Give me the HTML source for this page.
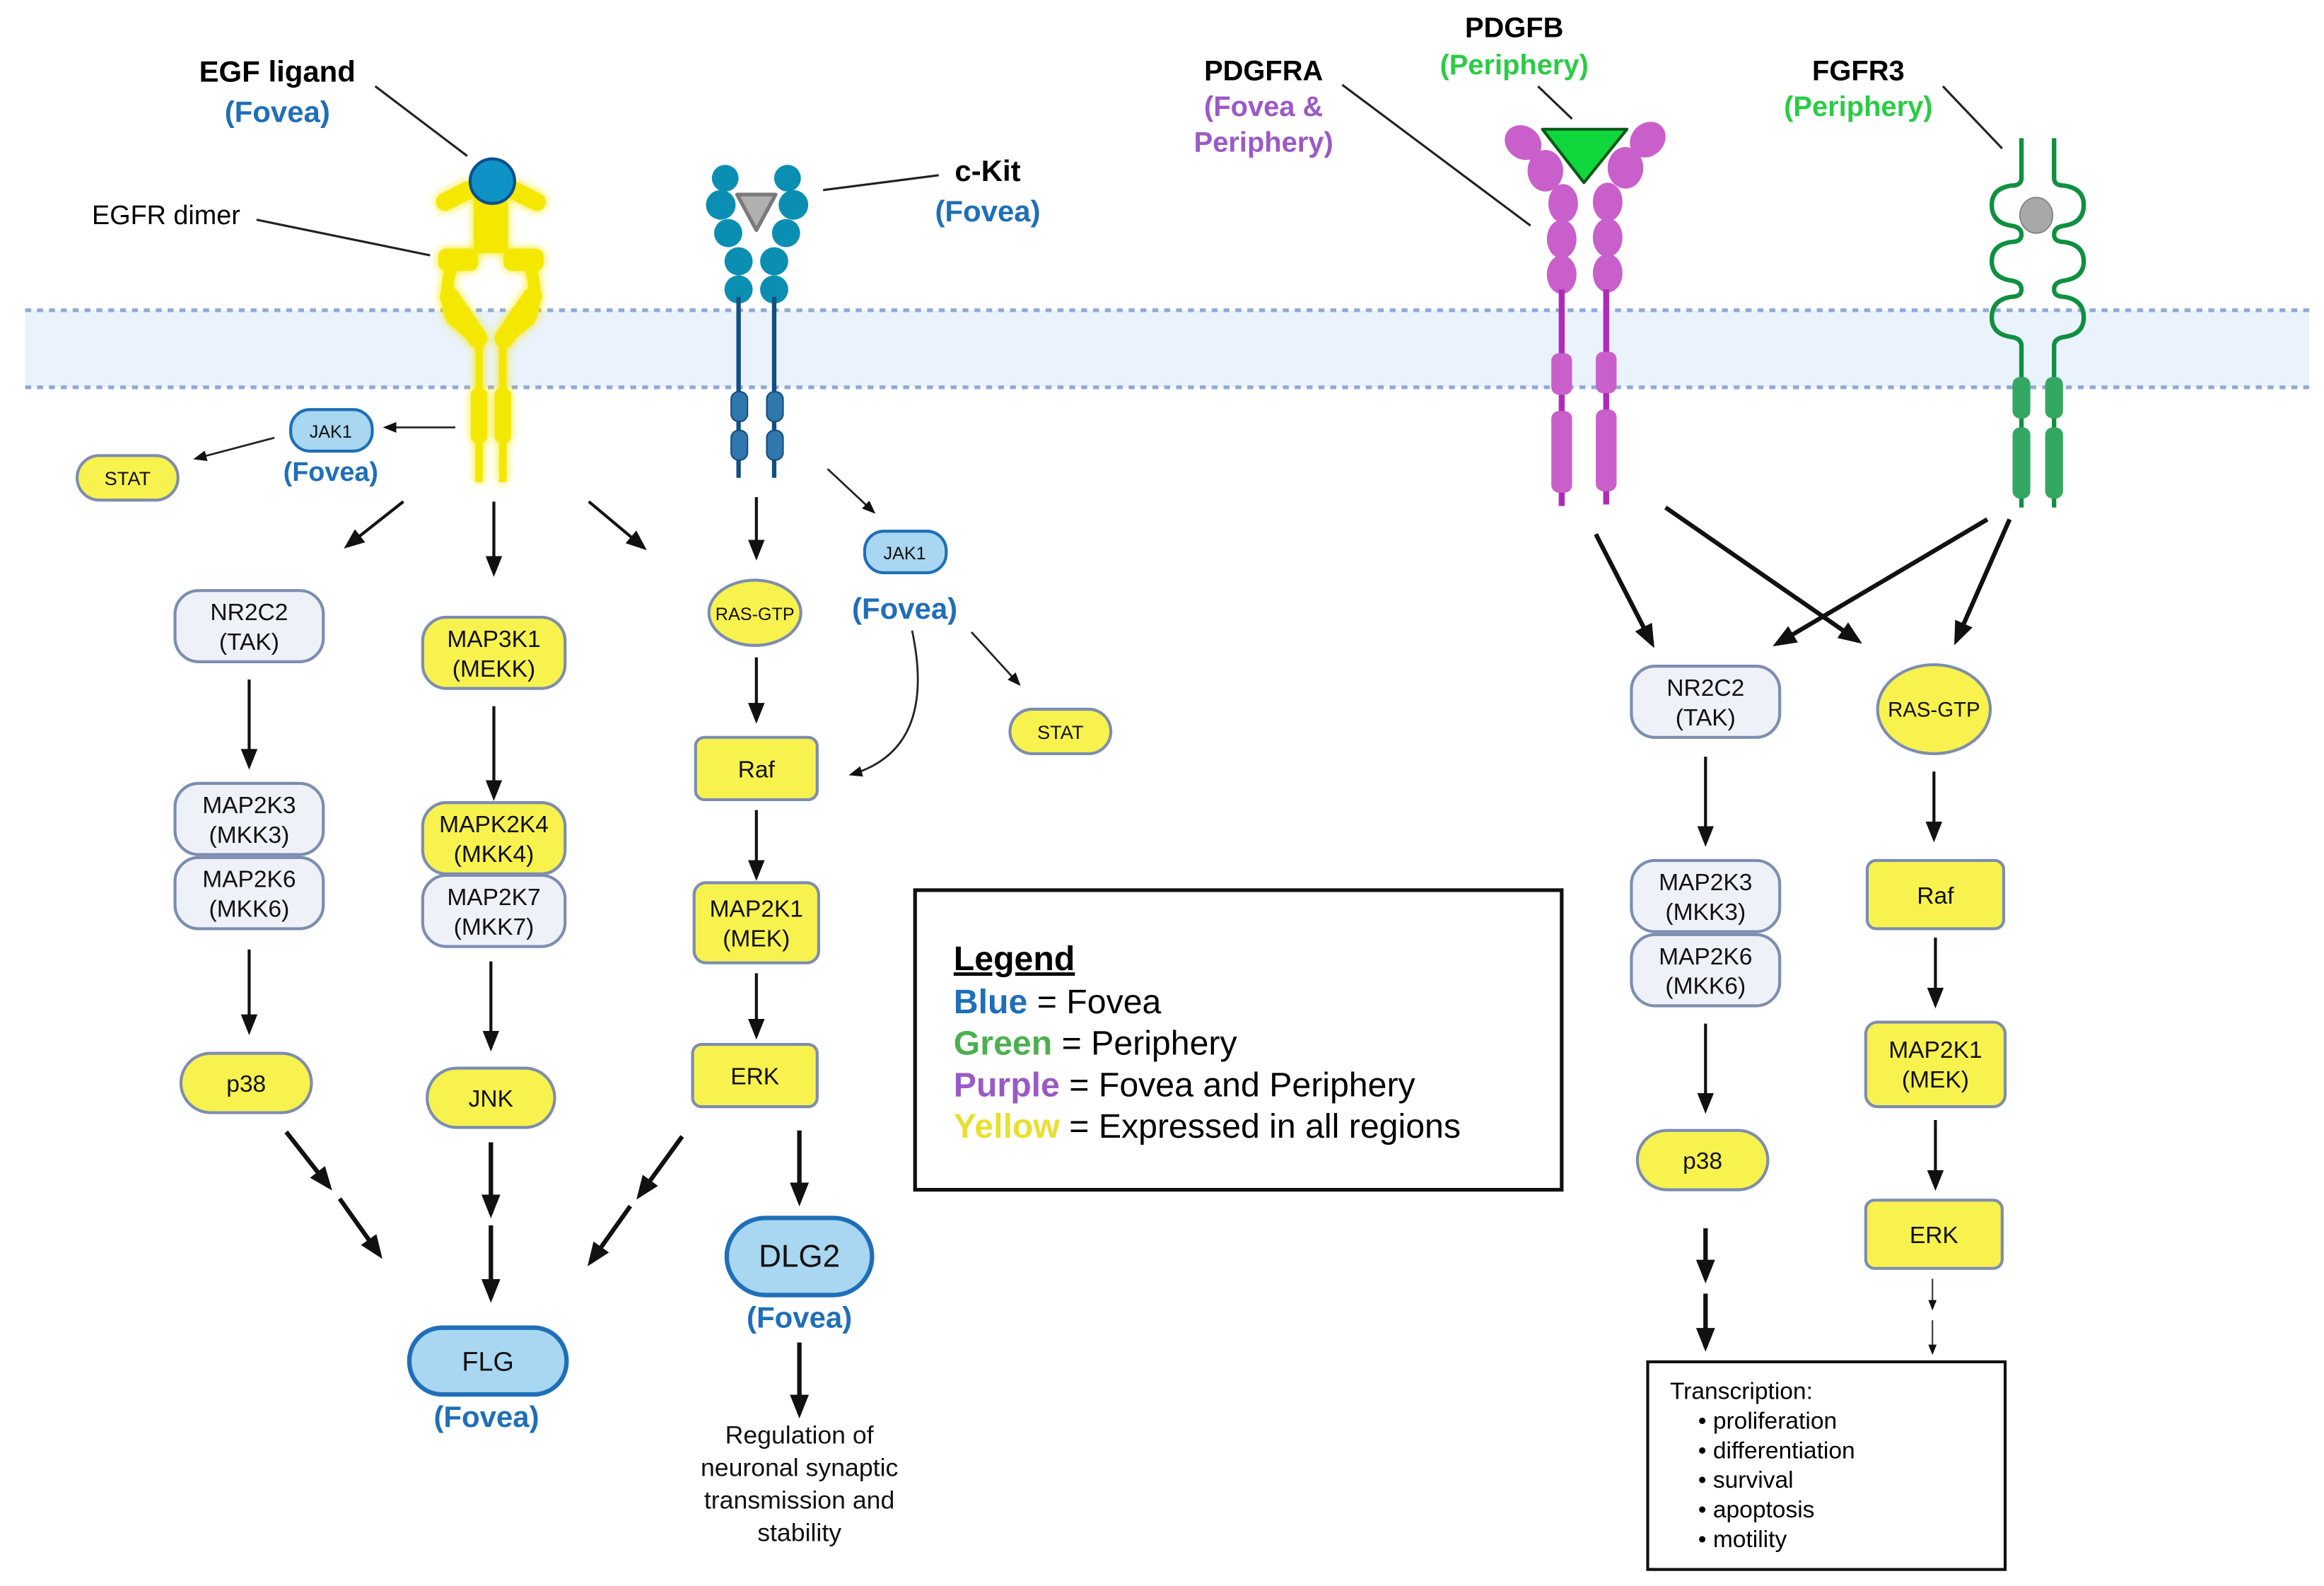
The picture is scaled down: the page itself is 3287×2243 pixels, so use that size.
<!DOCTYPE html>
<html><head><meta charset="utf-8"><style>html,body{margin:0;padding:0;background:#fff}svg{display:block}text{font-family:"Liberation Sans",sans-serif}</style></head><body>
<svg width="3287" height="2243" viewBox="0 0 1567 1069" xmlns="http://www.w3.org/2000/svg">
<defs>
<marker id="s" viewBox="0 0 10 10" refX="8" refY="5" markerWidth="7" markerHeight="7" orient="auto"><path d="M0,1L10,5L0,9z" fill="#111"/></marker>
<marker id="t" viewBox="0 0 10 10" refX="8" refY="5" markerWidth="16" markerHeight="16" markerUnits="userSpaceOnUse" orient="auto"><path d="M0,1L10,5L0,9z" fill="#111"/></marker>
<filter id="g" x="-30%" y="-30%" width="160%" height="160%"><feGaussianBlur stdDeviation="3" result="b"/><feMerge><feMergeNode in="b"/><feMergeNode in="SourceGraphic"/></feMerge></filter>
</defs>
<rect width="1567" height="1069" fill="#fff"/>
<rect x="17" y="209" width="1540" height="52" fill="#eaf2fc"/>
<line x1="17" y1="209" x2="1557" y2="209" stroke="#8fa9d8" stroke-width="2.5" stroke-dasharray="4,4"/>
<line x1="17" y1="261" x2="1557" y2="261" stroke="#8fa9d8" stroke-width="2.5" stroke-dasharray="4,4"/>

<g filter="url(#g)" fill="#f5e800" stroke="#f5e800">
<path d="M300,136 L316,128 M362,136 L346,128" stroke-width="12" stroke-linecap="round"/>
<rect x="320" y="125" width="22" height="45"/>
<path d="M305,178 Q298,200 305,215 L323,230 M357,178 Q364,200 357,215 L339,230" fill="none" stroke-width="8"/>
<rect x="296" y="168" width="26" height="14" rx="5"/><rect x="340" y="168" width="26" height="14" rx="5"/>
<path d="M303,200 L322,228 M359,200 L340,228" stroke-width="13" stroke-linecap="round"/>
<line x1="323" y1="230" x2="323" y2="325" stroke-width="5"/><line x1="339" y1="230" x2="339" y2="325" stroke-width="5"/>
<rect x="318" y="262" width="10" height="36" rx="4"/><rect x="334" y="262" width="10" height="36" rx="4"/>
</g>
<circle cx="332" cy="122" r="15" fill="#0f93c6" stroke="#0b4f8e" stroke-width="2"/>

<g fill="#0a8fb2">
<circle cx="489" cy="120" r="9"/><circle cx="531" cy="120" r="9"/>
<circle cx="486" cy="138" r="10"/><circle cx="535" cy="138" r="10"/>
<circle cx="491" cy="157" r="9.5"/><circle cx="530" cy="157" r="9.5"/>
<circle cx="498" cy="176" r="9.5"/><circle cx="522" cy="176" r="9.5"/>
<circle cx="498" cy="195" r="9.5"/><circle cx="522" cy="195" r="9.5"/>
</g>
<path d="M497,131 L523,131 L510,155 Z" fill="#b0b0b0" stroke="#7a7a7a" stroke-width="2.5" stroke-linejoin="round"/>
<g stroke="#124f80" stroke-width="3"><line x1="498" y1="200" x2="498" y2="322"/><line x1="522" y1="200" x2="522" y2="322"/></g>
<g fill="#2f77ad" stroke="#124f80" stroke-width="1"><rect x="493" y="264" width="11" height="20" rx="5"/><rect x="517" y="264" width="11" height="20" rx="5"/><rect x="493" y="290" width="11" height="20" rx="5"/><rect x="517" y="290" width="11" height="20" rx="5"/></g>

<g fill="#c95fcb">
<ellipse cx="1027" cy="96" rx="13" ry="11" transform="rotate(35 1027 96)"/><ellipse cx="1111" cy="94" rx="13" ry="11" transform="rotate(-45 1111 94)"/>
<ellipse cx="1042" cy="115" rx="12" ry="14"/><ellipse cx="1096" cy="113" rx="12" ry="14"/>
<ellipse cx="1054" cy="137" rx="10" ry="13"/><ellipse cx="1084" cy="136" rx="10" ry="13"/>
<ellipse cx="1053" cy="161" rx="10" ry="13"/><ellipse cx="1084" cy="160" rx="10" ry="13"/>
<ellipse cx="1053" cy="185" rx="10" ry="13"/><ellipse cx="1084" cy="184" rx="10" ry="13"/>
</g>
<g stroke="#b02ab8" stroke-width="4"><line x1="1053" y1="195" x2="1053" y2="341"/><line x1="1083" y1="195" x2="1083" y2="340"/></g>
<g fill="#c95fcb"><rect x="1046" y="238" width="14" height="28" rx="5"/><rect x="1076" y="237" width="14" height="28" rx="5"/><rect x="1046" y="277" width="14" height="55" rx="5"/><rect x="1076" y="276" width="14" height="55" rx="5"/></g>
<path d="M1040,87 L1097,87 L1068,123 Z" fill="#10d83c" stroke="#0a5a1a" stroke-width="2" stroke-linejoin="round"/>

<g fill="none" stroke="#0e9040" stroke-width="3">
<path d="M1363,93 L1363,120 Q1363,125 1356,125 Q1343,127 1343,138 Q1343,150 1356,152 Q1363,153 1363,158 Q1363,163 1356,163 Q1343,165 1343,176 Q1343,187 1356,189 Q1363,190 1363,195 Q1363,200 1356,200 Q1343,202 1343,214 Q1343,225 1356,227 Q1363,228 1363,233 L1363,342"/>
<path d="M1385,93 L1385,120 Q1385,125 1392,125 Q1405,127 1405,138 Q1405,150 1392,152 Q1385,153 1385,158 Q1385,163 1392,163 Q1405,165 1405,176 Q1405,187 1392,189 Q1385,190 1385,195 Q1385,200 1392,200 Q1405,202 1405,214 Q1405,225 1392,227 Q1385,228 1385,233 L1385,342"/>
</g>
<g fill="#33a862"><rect x="1357" y="254" width="12" height="28" rx="5"/><rect x="1379" y="254" width="12" height="28" rx="5"/><rect x="1357" y="288" width="12" height="48" rx="5"/><rect x="1379" y="288" width="12" height="48" rx="5"/></g>
<ellipse cx="1373" cy="145" rx="11" ry="12" fill="#a8a8a8" stroke="#888" stroke-width="1"/>

<g font-weight="bold" text-anchor="middle" font-size="20">
<text x="187" y="55" fill="#000">EGF ligand</text><text x="187" y="82" fill="#1f6fb8">(Fovea)</text>
<text x="666" y="122" fill="#000">c-Kit</text><text x="666" y="149" fill="#1f6fb8">(Fovea)</text>
<text x="852" y="54" fill="#000" font-size="19">PDGFRA</text><text x="852" y="78" fill="#9b59c6" font-size="19">(Fovea &amp;</text><text x="852" y="102" fill="#9b59c6" font-size="19">Periphery)</text>
<text x="1021" y="25" fill="#000" font-size="19">PDGFB</text><text x="1021" y="50" fill="#2bcb45" font-size="19">(Periphery)</text>
<text x="1253" y="54" fill="#000" font-size="19">FGFR3</text><text x="1253" y="78" fill="#2bcb45" font-size="19">(Periphery)</text>
</g>
<text x="112" y="151" font-size="18" text-anchor="middle">EGFR dimer</text>
<g stroke="#222" stroke-width="1.5">
<line x1="253" y1="58" x2="315" y2="105"/><line x1="173" y1="148" x2="290" y2="172"/>
<line x1="555" y1="128" x2="633" y2="118"/><line x1="905" y1="57" x2="1032" y2="152"/>
<line x1="1037" y1="58" x2="1060" y2="80"/><line x1="1310" y1="58" x2="1350" y2="100"/>
</g>

<g stroke="#7d8db0" stroke-width="2">
<g fill="#a9d6f0" stroke="#1f6fb8"><rect x="196" y="276" width="55" height="28" rx="13"/><rect x="583" y="358" width="55" height="28" rx="13"/></g>
<g fill="#f8f24e">
<rect x="52" y="307" width="68" height="30" rx="15"/><rect x="681" y="478" width="68" height="30" rx="15"/>
<rect x="285" y="416" width="96" height="48" rx="16"/>
<ellipse cx="509" cy="413" rx="31" ry="22"/>
<rect x="469" y="497" width="82" height="42" rx="6"/>
<rect x="285" y="541" width="96" height="48" rx="16"/>
<rect x="468" y="595" width="84" height="54" rx="8"/>
<rect x="122" y="710" width="88" height="40" rx="20"/>
<rect x="288" y="720" width="86" height="40" rx="20"/>
<rect x="467" y="704" width="84" height="42" rx="6"/>
<ellipse cx="1304" cy="478" rx="38" ry="30"/>
<rect x="1259" y="580" width="92" height="46" rx="6"/>
<rect x="1104" y="762" width="88" height="40" rx="20"/>
<rect x="1258" y="689" width="94" height="57" rx="8"/>
<rect x="1258" y="809" width="92" height="46" rx="6"/>
</g>
<g fill="#eef2f8">
<rect x="118" y="398" width="100" height="48" rx="16"/>
<rect x="118" y="528" width="100" height="48" rx="16"/>
<rect x="118" y="578" width="100" height="48" rx="16"/>
<rect x="285" y="590" width="96" height="48" rx="16"/>
<rect x="1100" y="449" width="100" height="48" rx="16"/>
<rect x="1100" y="580" width="100" height="48" rx="16"/>
<rect x="1100" y="630" width="100" height="48" rx="16"/>
</g>
<g fill="#a9d6f0" stroke="#1f6fb8" stroke-width="3">
<rect x="490" y="821" width="98" height="52" rx="26"/>
<rect x="276" y="895" width="106" height="45" rx="22"/>
</g>
</g>

<g text-anchor="middle" font-size="16" fill="#111">
<text x="223" y="295" font-size="12">JAK1</text><text x="610" y="377" font-size="12">JAK1</text>
<text x="86" y="327" font-size="13">STAT</text><text x="715" y="498" font-size="13">STAT</text>
<text x="168" y="418">NR2C2</text><text x="168" y="438">(TAK)</text>
<text x="333" y="436">MAP3K1</text><text x="333" y="456">(MEKK)</text>
<text x="509" y="418" font-size="12">RAS-GTP</text>
<text x="510" y="524">Raf</text>
<text x="168" y="548">MAP2K3</text><text x="168" y="568">(MKK3)</text>
<text x="168" y="598">MAP2K6</text><text x="168" y="618">(MKK6)</text>
<text x="333" y="561">MAPK2K4</text><text x="333" y="581">(MKK4)</text>
<text x="333" y="610">MAP2K7</text><text x="333" y="630">(MKK7)</text>
<text x="510" y="618">MAP2K1</text><text x="510" y="638">(MEK)</text>
<text x="166" y="736">p38</text><text x="331" y="746">JNK</text><text x="509" y="731">ERK</text>
<text x="539" y="854" font-size="21">DLG2</text>
<text x="329" y="924" font-size="18">FLG</text>
<text x="1150" y="469">NR2C2</text><text x="1150" y="489">(TAK)</text>
<text x="1304" y="483" font-size="14">RAS-GTP</text>
<text x="1305" y="609">Raf</text>
<text x="1150" y="600">MAP2K3</text><text x="1150" y="620">(MKK3)</text>
<text x="1150" y="650">MAP2K6</text><text x="1150" y="670">(MKK6)</text>
<text x="1148" y="788">p38</text>
<text x="1305" y="713">MAP2K1</text><text x="1305" y="733">(MEK)</text>
<text x="1304" y="838">ERK</text>
<text x="539" y="973" font-size="17">Regulation of</text><text x="539" y="995" font-size="17">neuronal synaptic</text><text x="539" y="1017" font-size="17">transmission and</text><text x="539" y="1039" font-size="17">stability</text>
</g>
<g font-weight="bold" text-anchor="middle" fill="#1f6fb8">
<text x="223" y="324" font-size="18">(Fovea)</text>
<text x="610" y="417" font-size="20">(Fovea)</text>
<text x="539" y="895" font-size="20">(Fovea)</text>
<text x="328" y="962" font-size="20">(Fovea)</text>
</g>

<rect x="617" y="600" width="436" height="202" fill="none" stroke="#111" stroke-width="2.5"/>
<g font-size="23">
<text x="643" y="654" font-weight="bold" text-decoration="underline">Legend</text>
<text x="643" y="683"><tspan font-weight="bold" fill="#1f6fb8">Blue</tspan> = Fovea</text>
<text x="643" y="711"><tspan font-weight="bold" fill="#4cb050">Green</tspan> = Periphery</text>
<text x="643" y="739"><tspan font-weight="bold" fill="#9b59c6">Purple</tspan> = Fovea and Periphery</text>
<text x="643" y="767"><tspan font-weight="bold" fill="#e8e030">Yellow</tspan> = Expressed in all regions</text>
</g>

<rect x="1111" y="918" width="241" height="140" fill="none" stroke="#111" stroke-width="2"/>
<g font-size="16">
<text x="1126" y="943">Transcription:</text>
<text x="1145" y="963">•  proliferation</text>
<text x="1145" y="983">•  differentiation</text>
<text x="1145" y="1003">•  survival</text>
<text x="1145" y="1023">•  apoptosis</text>
<text x="1145" y="1043">•  motility</text>
</g>

<g stroke="#222" stroke-width="1.3" fill="none" marker-end="url(#s)">
<line x1="307" y1="288" x2="260" y2="288"/>
<line x1="185" y1="295" x2="132" y2="309"/>
<line x1="558" y1="316" x2="589" y2="345"/>
<line x1="655" y1="426" x2="687" y2="461"/>
<path d="M615,425 Q632,505 574,522"/>
</g>
<g stroke="#111" stroke-width="2" fill="none" marker-end="url(#s)">
<line x1="272" y1="338" x2="234" y2="368"/>
<line x1="333" y1="338" x2="333" y2="386"/>
<line x1="397" y1="338" x2="434" y2="369"/>
<line x1="510" y1="335" x2="510" y2="375"/>
<line x1="168" y1="458" x2="168" y2="516"/>
<line x1="333" y1="476" x2="333" y2="537"/>
<line x1="510" y1="443" x2="510" y2="485"/>
<line x1="510" y1="546" x2="510" y2="591"/>
<line x1="168" y1="640" x2="168" y2="695"/>
<line x1="331" y1="648" x2="331" y2="706"/>
<line x1="510" y1="656" x2="510" y2="698"/>
<line x1="1150" y1="510" x2="1150" y2="568"/>
<line x1="1304" y1="520" x2="1304" y2="565"/>
<line x1="1305" y1="632" x2="1305" y2="677"/>
<line x1="1150" y1="690" x2="1150" y2="748"/>
<line x1="1305" y1="755" x2="1305" y2="800"/>
</g>
<g stroke="#111" stroke-width="3" fill="none" marker-end="url(#t)">
<line x1="193" y1="763" x2="222" y2="800"/><line x1="229" y1="808" x2="256" y2="846"/>
<line x1="331" y1="770" x2="331" y2="818"/><line x1="331" y1="826" x2="331" y2="875"/>
<line x1="460" y1="766" x2="431" y2="806"/><line x1="425" y1="813" x2="398" y2="851"/>
<line x1="539" y1="762" x2="539" y2="810"/>
<line x1="539" y1="905" x2="539" y2="953"/>
<line x1="1076" y1="360" x2="1114" y2="434"/>
<line x1="1123" y1="342" x2="1253" y2="432"/>
<line x1="1340" y1="350" x2="1198" y2="434"/>
<line x1="1355" y1="350" x2="1319" y2="432"/>
<line x1="1150" y1="828" x2="1150" y2="862"/><line x1="1150" y1="872" x2="1150" y2="908"/>
</g>
<g stroke="#333" stroke-width="1" fill="none" marker-end="url(#s)">
<line x1="1303" y1="862" x2="1303" y2="882"/><line x1="1303" y1="890" x2="1303" y2="912"/>
</g>
</svg>
</body></html>
